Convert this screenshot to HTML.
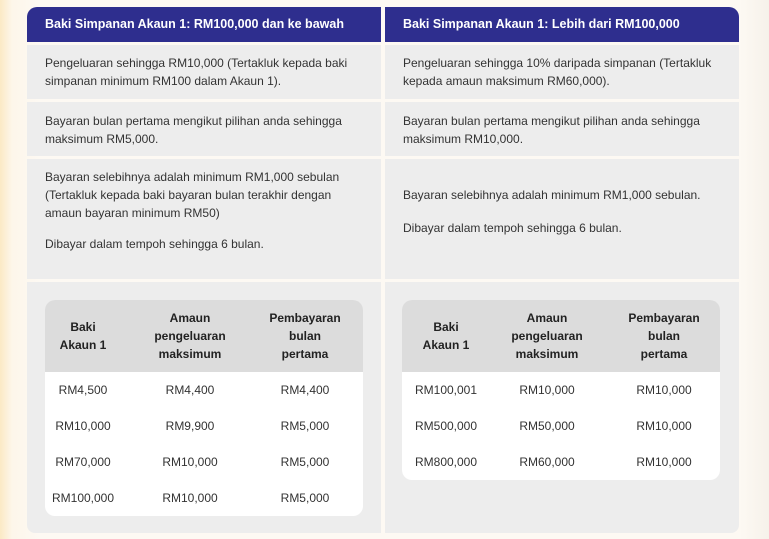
<!DOCTYPE html>
<html><head><style>
body{margin:0;width:769px;height:539px;overflow:hidden;background:linear-gradient(90deg,#fbe9c4 0px,#fdf6ea 12px,#fdf9f3 40px,#fdf9f3 740px,#f6f1ea 769px);font-family:"Liberation Sans",sans-serif;position:relative}
.a{position:absolute}
.hd{background:#2e2e8e;color:#fff;font-weight:bold;font-size:12.5px;line-height:35px;padding-left:18px;box-sizing:border-box}
.c{background:#ededed;color:#333;font-size:12px;line-height:18px;padding-left:18px;box-sizing:border-box}
.t{background:#fff;border-radius:10px;overflow:hidden}
.th{background:#dcdcdc;height:72px;position:relative}
.th div,.r div{position:absolute;text-align:center;transform:translateX(-50%);white-space:nowrap}
.th div{font-weight:bold;font-size:12px;line-height:18px;color:#222;top:50%}
.r{position:relative;height:36px}
.r div{font-size:12px;color:#333;line-height:36px;top:0}
</style></head><body>
<div class="a hd" style="left:27px;top:7px;width:354px;height:35px;border-top-left-radius:10px">Baki Simpanan Akaun 1: RM100,000 dan ke bawah</div>
<div class="a hd" style="left:385px;top:7px;width:354px;height:35px;border-top-right-radius:10px">Baki Simpanan Akaun 1: Lebih dari RM100,000</div>

<div class="a c" style="left:27px;top:45px;width:354px;height:54px;padding-top:9px">Pengeluaran sehingga RM10,000 (Tertakluk kepada baki<br>simpanan minimum RM100 dalam Akaun 1).</div>
<div class="a c" style="left:385px;top:45px;width:354px;height:54px;padding-top:9px">Pengeluaran sehingga 10% daripada simpanan (Tertakluk<br>kepada amaun maksimum RM60,000).</div>
<div class="a c" style="left:27px;top:102px;width:354px;height:54px;padding-top:10px">Bayaran bulan pertama mengikut pilihan anda sehingga<br>maksimum RM5,000.</div>
<div class="a c" style="left:385px;top:102px;width:354px;height:54px;padding-top:10px">Bayaran bulan pertama mengikut pilihan anda sehingga<br>maksimum RM10,000.</div>
<div class="a c" style="left:27px;top:159px;width:354px;height:120px;padding-top:9px">Bayaran selebihnya adalah minimum RM1,000 sebulan<br>(Tertakluk kepada baki bayaran bulan terakhir dengan<br>amaun bayaran minimum RM50)<div style="height:13px"></div>Dibayar dalam tempoh sehingga 6 bulan.</div>
<div class="a c" style="left:385px;top:159px;width:354px;height:120px;padding-top:27px">Bayaran selebihnya adalah minimum RM1,000 sebulan.<div style="height:15px"></div>Dibayar dalam tempoh sehingga 6 bulan.</div>
<div class="a c" style="left:27px;top:282px;width:354px;height:251px;border-bottom-left-radius:8px"></div>
<div class="a c" style="left:385px;top:282px;width:354px;height:251px;border-bottom-right-radius:8px"></div>

<div class="a t" style="left:45px;top:300px;width:318px;height:216px">
<div class="th"><div style="left:38px;margin-top:-18px">Baki<br>Akaun 1</div><div style="left:145px;margin-top:-27px">Amaun<br>pengeluaran<br>maksimum</div><div style="left:260px;margin-top:-27px">Pembayaran<br>bulan<br>pertama</div></div>
<div class="r"><div style="left:38px">RM4,500</div><div style="left:145px">RM4,400</div><div style="left:260px">RM4,400</div></div>
<div class="r"><div style="left:38px">RM10,000</div><div style="left:145px">RM9,900</div><div style="left:260px">RM5,000</div></div>
<div class="r"><div style="left:38px">RM70,000</div><div style="left:145px">RM10,000</div><div style="left:260px">RM5,000</div></div>
<div class="r"><div style="left:38px">RM100,000</div><div style="left:145px">RM10,000</div><div style="left:260px">RM5,000</div></div>
</div>

<div class="a t" style="left:402px;top:300px;width:318px;height:180px">
<div class="th"><div style="left:44px;margin-top:-18px">Baki<br>Akaun 1</div><div style="left:145px;margin-top:-27px">Amaun<br>pengeluaran<br>maksimum</div><div style="left:262px;margin-top:-27px">Pembayaran<br>bulan<br>pertama</div></div>
<div class="r"><div style="left:44px">RM100,001</div><div style="left:145px">RM10,000</div><div style="left:262px">RM10,000</div></div>
<div class="r"><div style="left:44px">RM500,000</div><div style="left:145px">RM50,000</div><div style="left:262px">RM10,000</div></div>
<div class="r"><div style="left:44px">RM800,000</div><div style="left:145px">RM60,000</div><div style="left:262px">RM10,000</div></div>
</div>
</body></html>
